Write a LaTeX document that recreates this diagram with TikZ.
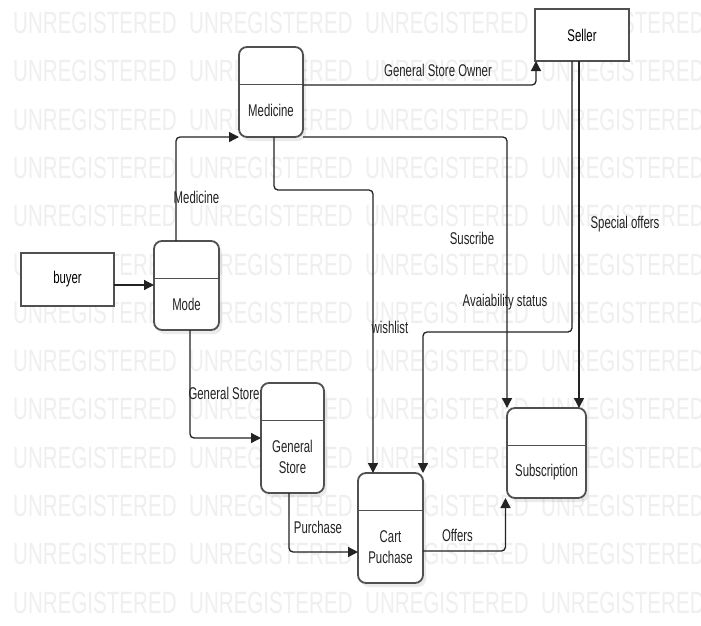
\documentclass[tikz,border=0pt]{standalone}
\usepackage{fontspec}
\setmainfont{Liberation Sans}[FakeStretch=0.67]
\usepackage{tikz}
\usetikzlibrary{arrows.meta}
\usetikzlibrary{shadows}

\definecolor{boxgray}{RGB}{80,80,80}
\definecolor{inkgray}{RGB}{35,35,35}
\definecolor{wmgray}{RGB}{239,239,239}

\tikzset{
  entity/.style={draw=boxgray, line width=1.8pt, fill=white, inner sep=0pt, outer sep=0pt},
  procbox/.style={entity, rounded corners=8pt,
    drop shadow={shadow xshift=3pt, shadow yshift=-4pt, fill=black, opacity=0.08}},
  divider/.style={draw=boxgray, line width=1.8pt},
  flow/.style={draw=inkgray, line width=1.3pt, rounded corners=4pt,
    -{Triangle[length=10pt,width=10pt]}},
  lbl/.style={text=inkgray, inner sep=0pt},
  watermark/.style={text=wmgray, inner sep=0pt, anchor=west,
    font=\fontsize{30.7}{36}\selectfont},
}

\begin{document}
\begin{tikzpicture}[x=1pt, y=-1pt, every node/.append style={font=\fontsize{17}{21}\selectfont}]
  \useasboundingbox (0,0) rectangle (701,625);
  \fill[white] (0,0) rectangle (701,625);

  % trial watermark
  \begin{scope}
    \clip (0,0) rectangle (701,625);
    \foreach \row in {0,...,12}
      \foreach \col in {0,...,3}
        \node[watermark] (wm-\row-\col) at (13+176*\col, 23+48.3*\row) {UNREGISTERED};
  \end{scope}

  % external entities
  \node[entity, minimum width=93pt, minimum height=53pt] (buyer) at (67.5,279.5) {buyer};
  \node[entity, minimum width=94pt, minimum height=52pt] (seller) at (582,35) {Seller};

  % processes
  \node[procbox, minimum width=64pt, minimum height=90pt] (medicine) at (271,92) {};
  \node[procbox, minimum width=65pt, minimum height=89pt] (mode) at (186.5,285.5) {};
  \node[procbox, minimum width=63pt, minimum height=110pt] (genstore) at (292.5,438) {};
  \node[procbox, minimum width=65pt, minimum height=110pt] (cart) at (390.5,528) {};
  \node[procbox, minimum width=79pt, minimum height=90pt] (subscr) at (546.5,453) {};

  \foreach \p in {medicine,mode,genstore,cart,subscr}
    \draw[divider] ([yshift=-37.5pt]\p.north west) -- ([yshift=-37.5pt]\p.north east);

  \node[lbl] (medicine-t) at (271,110) {Medicine};
  \node[lbl] (mode-t) at (186.5,304) {Mode};
  \node[lbl, align=center] (genstore-t) at (292.5,457) {General\\Store};
  \node[lbl, align=center] (cart-t) at (390.5,547) {Cart\\Puchase};
  \node[lbl] (subscr-t) at (546.5,472) {Subscription};

  % data flows
  \draw[flow] (buyer.east |- 0,285) -- (mode.west |- 0,285);
  \draw[flow] ([xshift=-10.5pt]mode.north) |- (medicine.south west);
  \draw[flow] (medicine.east |- 0,85) -| ([xshift=1pt]seller.south west);
  \draw[flow] (medicine.south east) -| (subscr.north west);
  \draw[flow] ([xshift=3pt]medicine.south) -- ++(0,53) -| ([xshift=-17.5pt]cart.north);
  \draw[flow] ([xshift=-10pt]seller.south) -- ++(0,271) -| (cart.north east);
  \draw[flow] ([xshift=-3pt]seller.south) -- ([xshift=-3pt]seller.south |- subscr.north);
  \draw[flow] ([xshift=3.5pt]mode.south) |- (genstore.west);
  \draw[flow] ([xshift=-3.5pt]genstore.south) |- ([yshift=-24pt]cart.west);
  \draw[flow] ([yshift=-23pt]cart.east) -| ([xshift=-1.5pt]subscr.south west);

  % flow labels
  \node[lbl] (l-med) at (196.5,197) {Medicine};
  \node[lbl] (l-owner) at (438,70) {General Store Owner};
  \node[lbl] (l-sub) at (472,238) {Suscribe};
  \node[lbl] (l-wish) at (390,327) {wishlist};
  \node[lbl] (l-avail) at (505,302) {Avaiability status};
  \node[lbl] (l-spec) at (625,224) {Special offers};
  \node[lbl] (l-gen) at (224,393) {General Store};
  \node[lbl] (l-purch) at (318,527) {Purchase};
  \node[lbl] (l-off) at (457.5,535) {Offers};
\end{tikzpicture}
\end{document}
